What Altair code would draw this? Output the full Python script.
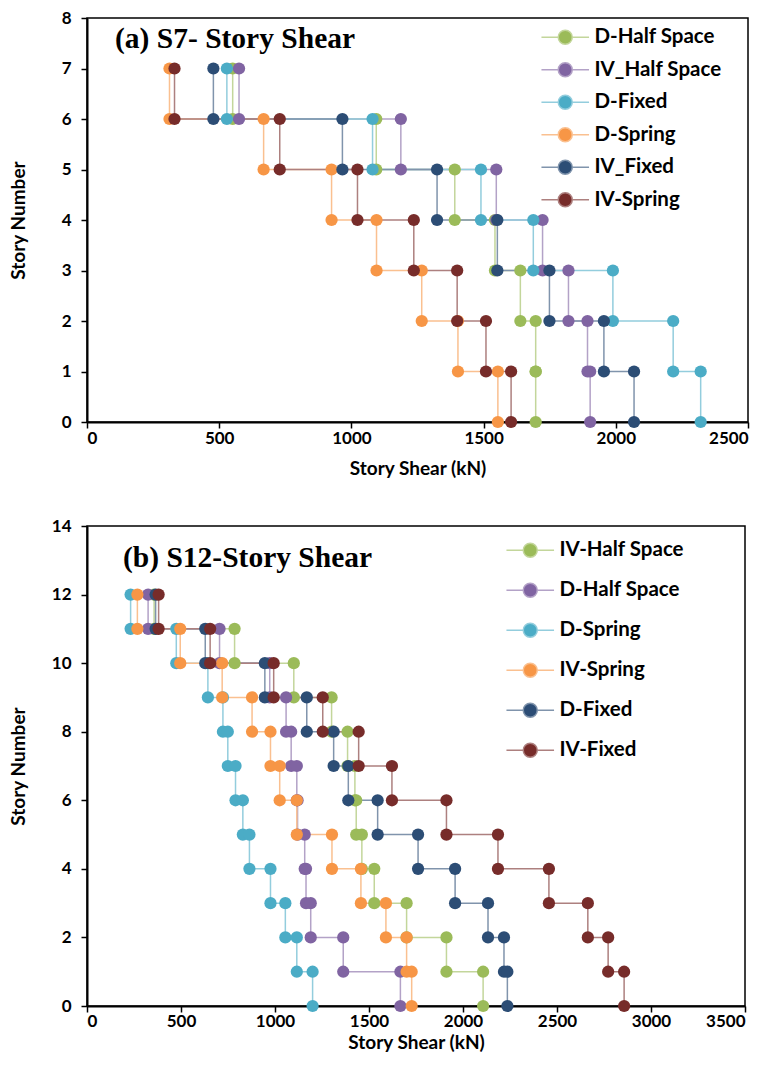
import altair as alt
import pandas as pd

# ---------------- Panel (a): S7 ----------------
a_series = ["D-Half Space", "IV_Half Space", "D-Fixed", "D-Spring", "IV_Fixed", "IV-Spring"]
a_stories = [7, 6, 5, 4, 3, 2, 1]
a_d_half = [551, 1094, 1391, 1543, 1639, 1697, 1697]
a_iv_half = [575, 1187, 1548, 1723, 1821, 1893, 1903]
a_d_fixed = [529, 1080, 1490, 1688, 1989, 2217, 2321]
a_d_spring = [312, 668, 925, 1095, 1266, 1403, 1554]
a_iv_fixed = [478, 966, 1324, 1552, 1749, 1955, 2069]
a_iv_spring = [331, 729, 1023, 1236, 1400, 1509, 1604]
a_colors = ["#9BBB59", "#8064A2", "#4BACC6", "#F79646", "#2C4D75", "#772C2A"]
a_light = ["#C3D69B", "#B3A2C7", "#93CDDD", "#FAC090", "#8094AC", "#AD807F"]
a_xticks = [0, 500, 1000, 1500, 2000, 2500]
a_yticks = [0, 1, 2, 3, 4, 5, 6, 7, 8]

# ---------------- Panel (b): S12 ----------------
b_series = ["IV-Half Space", "D-Half Space", "D-Spring", "IV-Spring", "D-Fixed", "IV-Fixed"]
b_stories = [12, 11, 10, 9, 8, 7, 6, 5, 4, 3, 2, 1]
b_iv_half = [357, 785, 1100, 1301, 1386, 1425, 1432, 1462, 1528, 1700, 1912, 2107]
b_d_half = [325, 705, 972, 1059, 1086, 1116, 1120, 1158, 1165, 1190, 1363, 1667]
b_d_spring = [232, 475, 643, 723, 749, 790, 829, 864, 976, 1055, 1116, 1200]
b_iv_spring = [268, 496, 719, 878, 976, 1025, 1116, 1303, 1457, 1590, 1700, 1727]
b_d_fixed = [365, 629, 946, 1169, 1312, 1390, 1546, 1761, 1958, 2133, 2218, 2236]
b_iv_fixed = [381, 655, 993, 1254, 1445, 1622, 1912, 2186, 2457, 2664, 2772, 2857]
b_colors = ["#9BBB59", "#8064A2", "#4BACC6", "#F79646", "#2C4D75", "#772C2A"]
b_light = ["#C3D69B", "#B3A2C7", "#93CDDD", "#FAC090", "#8094AC", "#AD807F"]
b_xticks = [0, 500, 1000, 1500, 2000, 2500, 3000, 3500]
b_yticks = [0, 2, 4, 6, 8, 10, 12, 14]

LEGEND_PATH = "M-3.4,0L-1,0M1,0L3.4,0M-1,0A1,1,0,1,1,1,0A1,1,0,1,1,-1,0Z"


def step_table(names, stories, values):
    rows = []
    for name, vals in zip(names, values):
        seq = 0
        for s, v in zip(stories, vals):
            rows.append({"series": name, "story": s, "shear": v, "seq": seq})
            seq += 1
            rows.append({"series": name, "story": s - 1, "shear": v, "seq": seq})
            seq += 1
    return pd.DataFrame(rows)


def panel(df, names, colors, light, xticks, yticks, w, h, title_text, tx, ty,
          lx, ly, rowpad, xlabpad, xtitlepad):
    leg = alt.Legend(title=None, orient="none", legendX=lx, legendY=ly,
                     symbolType=LEGEND_PATH, symbolSize=196, symbolStrokeWidth=1.5,
                     labelFont="Lato", labelFontSize=20.5, labelFontWeight="bold",
                     labelColor="black", labelOffset=19, rowPadding=rowpad,
                     padding=0, labelLimit=300)
    x = alt.X("shear:Q",
              scale=alt.Scale(domain=[xticks[0], xticks[-1]], nice=False),
              axis=alt.Axis(values=xticks, format="d", title="Story Shear (kN)",
                            labelPadding=xlabpad, titlePadding=xtitlepad))
    y = alt.Y("story:Q",
              scale=alt.Scale(domain=[yticks[0], yticks[-1]], nice=False),
              axis=alt.Axis(values=yticks, format="d", title="Story Number", labelPadding=10,
                            titlePadding=9, minExtent=50, maxExtent=50))
    lines = alt.Chart(df).mark_line(strokeWidth=1.5).encode(
        x=x, y=y,
        stroke=alt.Stroke("series:N", scale=alt.Scale(domain=names, range=light), legend=leg),
        order=alt.Order("seq:Q"),
    )
    points = alt.Chart(df).mark_circle(size=150, opacity=1).encode(
        x=x, y=y,
        color=alt.Color("series:N", scale=alt.Scale(domain=names, range=colors), legend=leg),
    )
    title = alt.Chart(pd.DataFrame({"t": [title_text]})).mark_text(
        font="Liberation Serif", fontSize=29.5, fontWeight="bold", align="left",
        baseline="middle", color="black"
    ).encode(x=alt.value(tx), y=alt.value(ty), text="t:N")
    return alt.layer(lines, points, title).properties(width=w, height=h)


df_a = step_table(a_series, a_stories,
                  [a_d_half, a_iv_half, a_d_fixed, a_d_spring, a_iv_fixed, a_iv_spring])
df_b = step_table(b_series, b_stories,
                  [b_iv_half, b_d_half, b_d_spring, b_iv_spring, b_d_fixed, b_iv_fixed])

pa = panel(df_a, a_series, a_colors, a_light, a_xticks, a_yticks, 661, 404,
           "(a) S7- Story Shear", 28, 21, 468, 9, 11.5, 2, 13)
pb = panel(df_b, b_series, b_colors, b_light, b_xticks, b_yticks, 658, 480,
           "(b) S12-Story Shear", 36, 32, 433, 14, 19, 1, 4)

chart = alt.vconcat(pa, pb, spacing=37).resolve_scale(
    color="independent", stroke="independent", x="independent", y="independent"
).resolve_legend(color="independent", stroke="independent").properties(
    padding={"left": 8, "top": 8, "right": 5, "bottom": 5},
    background="white",
).configure_axis(
    labelFont="Lato", labelFontWeight="bold", labelFontSize=17, labelColor="black",
    titleFont="Lato", titleFontWeight="bold", titleFontSize=19, titleColor="black",
    domainColor="black", domainWidth=2, tickColor="black", tickWidth=1.5, tickSize=6,
    grid=False,
).configure_view(stroke="black", strokeWidth=1.5)

chart.save("out.html", embed_options={"renderer": "svg", "actions": False})
